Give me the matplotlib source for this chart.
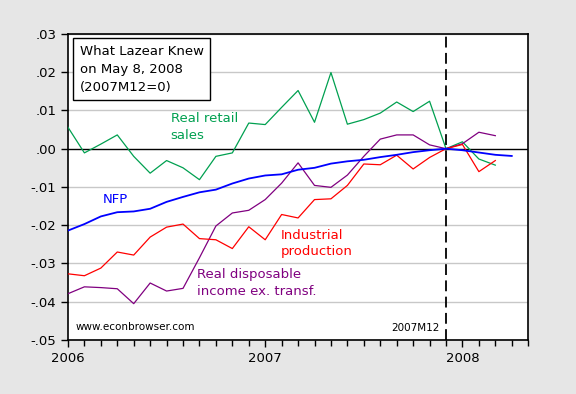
import matplotlib
matplotlib.use('Agg')
import matplotlib.pyplot as plt
import numpy as np

# monthly index, 0 = 2006M1, 2007M12 = 23
retail = [0.0056, -0.0011, 0.0012, 0.0036, -0.0020, -0.0064, -0.0031, -0.0050,
          -0.0081, -0.0020, -0.0011, 0.0067, 0.0063, 0.0108, 0.0152, 0.0069,
          0.0199, 0.0064, 0.0076, 0.0093, 0.0122, 0.0097, 0.0124, 0.0000,
          0.0018, -0.0027, -0.0043]
nfp = [-0.0214, -0.0197, -0.0177, -0.0166, -0.0164, -0.0157, -0.0139, -0.0126,
       -0.0114, -0.0107, -0.0091, -0.0078, -0.0070, -0.0067, -0.0055, -0.0050,
       -0.0039, -0.0033, -0.0029, -0.0022, -0.0016, -0.0009, -0.0004, 0.0000,
       -0.0004, -0.0010, -0.0016, -0.0019]
indprod = [-0.0327, -0.0332, -0.0312, -0.0270, -0.0278, -0.0231, -0.0205, -0.0197,
           -0.0235, -0.0238, -0.0261, -0.0204, -0.0238, -0.0172, -0.0181, -0.0133,
           -0.0131, -0.0096, -0.0040, -0.0042, -0.0017, -0.0053, -0.0023, 0.0000,
           0.0011, -0.0060, -0.0031]
rdi = [-0.0379, -0.0361, -0.0363, -0.0366, -0.0405, -0.0351, -0.0372, -0.0365,
       -0.0285, -0.0202, -0.0168, -0.0161, -0.0133, -0.0090, -0.0037, -0.0096,
       -0.0101, -0.0069, -0.0020, 0.0025, 0.0036, 0.0036, 0.0010, 0.0000,
       0.0013, 0.0043, 0.0034]

year_labels = ['2006', '2007', '2008']
yticks = [0.03, 0.02, 0.01, 0.0, -0.01, -0.02, -0.03, -0.04, -0.05]
ytick_labels = ['.03', '.02', '.01', '.00', '-.01', '-.02', '-.03', '-.04', '-.05']

fig = plt.figure(figsize=(5.76, 3.94), dpi=100, facecolor='#e6e6e6')
ax = fig.add_axes([0.118, 0.137, 0.799, 0.777])
ax.set_facecolor('white')

for y in yticks:
    if y != 0:
        ax.axhline(y, color='#c8c8c8', lw=1.0, zorder=0)
ax.axhline(0, color='black', lw=1.0, zorder=1)
ax.axvline(23, color='black', lw=1.3, ls=(0, (6, 3)), zorder=1)

ax.plot(np.arange(len(retail)), retail, color='#00a050', lw=0.9, zorder=3)
ax.plot(np.arange(len(rdi)), rdi, color='#800080', lw=0.9, zorder=3)
ax.plot(np.arange(len(indprod)), indprod, color='#ff0000', lw=0.9, zorder=3)
ax.plot(np.arange(len(nfp)), nfp, color='#0000ff', lw=1.3, zorder=4)

ax.set_xlim(0, 28)
ax.set_ylim(-0.05, 0.03)
ax.set_yticks(yticks)
ax.set_yticklabels(ytick_labels, fontsize=9.5)
ax.set_xticks([0, 12, 24])
ax.set_xticklabels(year_labels, fontsize=9.5)
ax.set_xticks(np.arange(0, 29), minor=True)
ax.tick_params(axis='both', which='both', direction='out', color='black')
ax.tick_params(axis='both', which='major', length=5, width=1)
ax.tick_params(axis='x', which='minor', length=4, width=1)
for s in ax.spines.values():
    s.set_linewidth(1.2)

ax.text(0.72, 0.0272, 'What Lazear Knew\non May 8, 2008\n(2007M12=0)', fontsize=9.5,
        va='top', ha='left', linespacing=1.5,
        bbox=dict(boxstyle='square,pad=0.5', fc='white', ec='black', lw=1.0))
ax.text(6.25, 0.0095, 'Real retail\nsales', color='#00a050', fontsize=9.5,
        va='top', ha='left', linespacing=1.35)
ax.text(2.1, -0.0117, 'NFP', color='#0000ff', fontsize=9.5, va='top', ha='left')
ax.text(12.95, -0.0209, 'Industrial\nproduction', color='#ff0000', fontsize=9.5,
        va='top', ha='left', linespacing=1.35)
ax.text(7.85, -0.0313, 'Real disposable\nincome ex. transf.', color='#800080',
        fontsize=9.5, va='top', ha='left', linespacing=1.35)
ax.text(0.45, -0.0465, 'www.econbrowser.com', color='black', fontsize=7.5,
        va='center', ha='left')
ax.text(22.6, -0.0468, '2007M12', color='black', fontsize=7.5, va='center', ha='right')

fig.savefig('out.png', dpi=100, facecolor=fig.get_facecolor())
